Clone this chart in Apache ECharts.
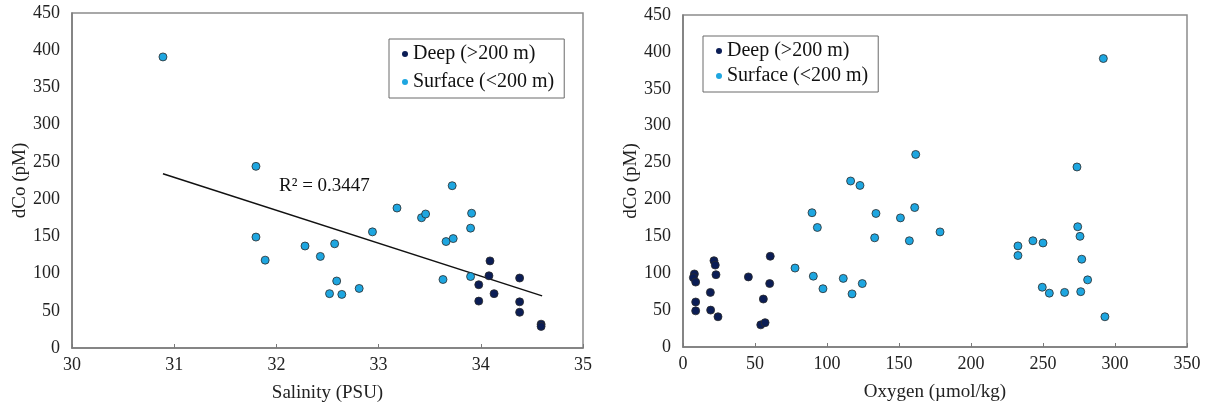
<!DOCTYPE html>
<html>
<head>
<meta charset="utf-8">
<title>dCo vs salinity and oxygen</title>
<script src="https://cdn.jsdelivr.net/npm/echarts@6/dist/echarts.min.js"></script>
<style>
  html, body { margin: 0; padding: 0; background: #fff; }
  #chart { width: 1207px; height: 408px; }
</style>
</head>
<body>
<div id="chart"></div>
<script>
// salinity panel
const salDeepX = [34.09, 34.08, 33.98, 34.13, 33.98, 34.38, 34.38, 34.38, 34.59, 34.59];
const salDeepY = [117, 97, 85, 73, 63, 94, 62, 48, 32, 29];
const salSurfX = [30.89, 31.80, 31.80, 31.89, 32.28, 32.57, 32.43, 32.59, 32.52, 32.64, 32.81,
                  32.94, 33.18, 33.42, 33.46, 33.72, 33.91, 33.90, 33.66, 33.73, 33.63, 33.90];
const salSurfY = [391, 244, 149, 118, 137, 140, 123, 90, 73, 72, 80,
                  156, 188, 175, 180, 218, 181, 161, 143, 147, 92, 96];
// linear fit (end points)
const trendX = [30.89, 34.60];
const trendY = [234, 70];
const r2Text = "R\u00b2 = 0.3447";

// oxygen panel
const oxyDeepX = [7.9, 7.2, 8.8, 8.8, 8.8, 21.5, 22.4, 22.9, 19.0, 19.2, 24.3, 45.4, 60.6, 60.2, 55.8, 54.0, 57.0];
const oxyDeepY = [99, 94, 88, 61, 49, 117, 111, 98, 74, 50, 41, 95, 123, 86, 65, 30, 33];
const oxySurfX = [77.8, 89.6, 93.3, 90.5, 97.2, 111.3, 117.4, 124.5, 116.4, 122.9, 134.0, 133.1, 151.0,
                  161.6, 160.9, 157.2, 178.5, 291.9, 273.6, 274.1, 275.7, 276.9, 281.0, 276.2, 265.0,
                  254.4, 249.5, 293.0, 232.6, 232.6, 243.0, 250.0];
const oxySurfY = [107, 182, 162, 96, 79, 93, 72, 86, 225, 219, 181, 148, 175,
                  261, 189, 144, 156, 391, 244, 163, 150, 119, 91, 75, 74,
                  73, 81, 41, 137, 124, 144, 141];

const seriesNames = ["Deep (>200 m)", "Surface (<200 m)"];
const deepColor = "#0b1d55";
const surfColor = "#1ea6e0";

const zip = (xs, ys) => xs.map((x, i) => [x, ys[i]]);

const font = "Liberation Serif";
const axisText = { color: "#222", fontFamily: font, fontSize: 18 };
const nameText = { color: "#222", fontFamily: font, fontSize: 19 };

function xAxis(idx, min, max, interval, name) {
  return {
    gridIndex: idx, type: "value", min: min, max: max, interval: interval,
    name: name, nameLocation: "middle", nameGap: 36, nameTextStyle: nameText,
    axisLine: { show: true, lineStyle: { color: "#7a7a7a", width: 1.5 } },
    axisTick: { show: true, inside: true, length: 4, lineStyle: { color: "#7a7a7a" } },
    axisLabel: Object.assign({ margin: 8 }, axisText),
    splitLine: { show: false }
  };
}
function yAxis(idx, gap) {
  return {
    gridIndex: idx, type: "value", min: 0, max: 450, interval: 50,
    name: "dCo (pM)", nameLocation: "middle", nameGap: gap, nameTextStyle: nameText,
    axisLine: { show: true, lineStyle: { color: "#7a7a7a", width: 1.5 } },
    axisTick: { show: false },
    axisLabel: Object.assign({ margin: 12 }, axisText),
    splitLine: { show: false }
  };
}
function dots(name, color, data, idx) {
  return {
    name: name, type: "scatter", xAxisIndex: idx, yAxisIndex: idx,
    symbolSize: 8, data: data,
    itemStyle: { color: color, borderColor: "#2b2b2b", borderWidth: 0.8, opacity: 1 },
    z: 3
  };
}
function legend(left, top, gap) {
  return {
    data: seriesNames, orient: "vertical", left: left, top: top,
    icon: "circle", itemWidth: 6, itemHeight: 6, itemGap: gap,
    itemStyle: { borderWidth: 0 },
    padding: [5, 10, 6, 13],
    borderColor: "#6a6a6a", borderWidth: 1, backgroundColor: "#fff",
    textStyle: { color: "#111", fontFamily: font, fontSize: 20 }
  };
}

const chart = echarts.init(document.getElementById("chart"), null, { renderer: "canvas" });
chart.setOption({
  animation: false,
  backgroundColor: "#fff",
  color: [deepColor, surfColor],
  grid: [
    { left: 72, right: 624, top: 13, bottom: 60, show: true, borderColor: "#8c8c8c", borderWidth: 1.5 },
    { left: 683, right: 20, top: 15, bottom: 61, show: true, borderColor: "#8c8c8c", borderWidth: 1.5 }
  ],
  legend: [legend(389, 39, 8), legend(703, 36, 5)],
  xAxis: [xAxis(0, 30, 35, 1, "Salinity (PSU)"), xAxis(1, 0, 350, 50, "Oxygen (\u00b5mol/kg)")],
  yAxis: [yAxis(0, 40), yAxis(1, 41)],
  series: [
    {
      name: "fit", type: "line", xAxisIndex: 0, yAxisIndex: 0,
      data: zip(trendX, trendY), symbol: "none", silent: true,
      lineStyle: { color: "#111", width: 1.5 }, z: 2,
      markPoint: {
        symbol: "circle", symbolSize: 0, silent: true,
        data: [{ coord: [32.47, 217] }],
        label: { show: true, position: "inside", formatter: r2Text,
                 color: "#111", fontFamily: font, fontSize: 19 }
      }
    },
    dots(seriesNames[0], deepColor, zip(salDeepX, salDeepY), 0),
    dots(seriesNames[1], surfColor, zip(salSurfX, salSurfY), 0),
    dots(seriesNames[0], deepColor, zip(oxyDeepX, oxyDeepY), 1),
    dots(seriesNames[1], surfColor, zip(oxySurfX, oxySurfY), 1)
  ]
});
</script>
</body>
</html>
